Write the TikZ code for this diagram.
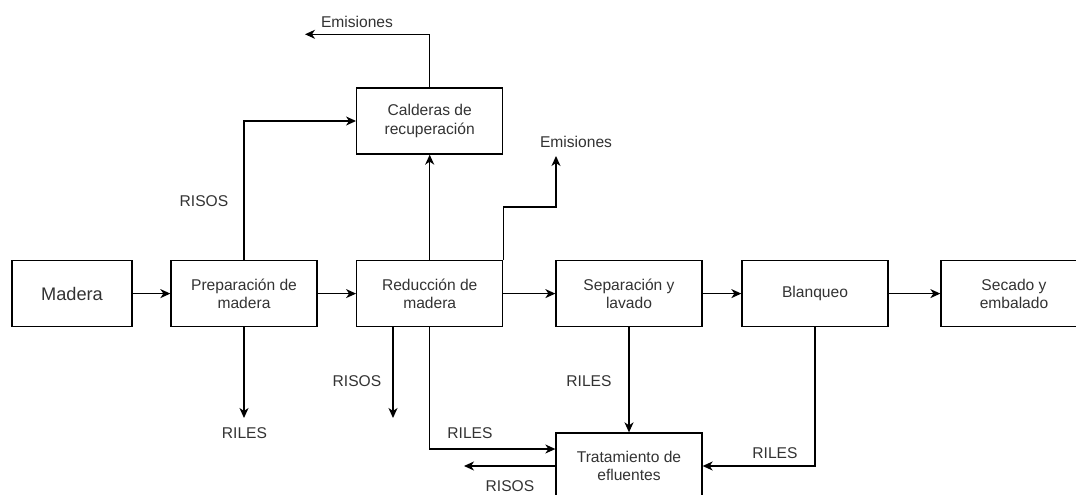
\documentclass[tikz,border=0pt]{standalone}
\usepackage{fontspec}
\setmainfont{Liberation Sans}
\usetikzlibrary{arrows.meta}
\definecolor{txt}{HTML}{333333}
\begin{document}
\begin{tikzpicture}[x=1pt,y=-1pt,
 box/.style={draw=black, line width=1.3pt, minimum width=146pt, minimum height=66pt, inner sep=0pt, align=center, text=txt, font=\fontsize{15.6}{18.3}\selectfont},
 lbl/.style={inner sep=0pt, text=txt, font=\fontsize{15.6}{18.3}\selectfont},
 flow/.style={draw=black, line width=1.3pt, -{Stealth[length=10pt,width=9pt,inset=3pt]}},
 wire/.style={draw=black, line width=1.3pt}
]
\useasboundingbox (0,0) rectangle (1076,495);
\clip (0,0) rectangle (1076,495);
\fill[white] (0,0) rectangle (1076,495);

% process boxes
\node[box, minimum width=120pt, font=\fontsize{18.2}{21}\selectfont] (mad) at (72,293.6) {Madera};
\node[box] (prep) at (244,293.6) {Preparación de\\madera};
\node[box] (red) at (429.7,293.6) {Reducción de\\madera};
\node[box] (sep) at (629,293.6) {Separación y\\lavado};
\node[box] (bla) at (815,293.6) {Blanqueo};
\node[box] (sec) at (1014,293.6) {Secado y\\embalado};
\node[box] (cal) at (429.7,121) {Calderas de\\recuperación};
\node[box] (tra) at (629,466) {Tratamiento de\\efluentes};

% free ends
\coordinate (e1) at (305,34.3);
\coordinate (e2) at (556,156);
\coordinate (k2) at (0,207);
\coordinate (r0) at (244,418);
\coordinate (r1) at (393,418);
\coordinate (r2) at (464,466);

% main line
\draw[flow] (mad) -- (prep);
\draw[flow] (prep) -- (red);
\draw[flow] (red) -- (sep);
\draw[flow] (sep) -- (bla);
\draw[flow] (bla) -- (sec);

% to boilers
\draw[flow] (prep.north) |- (cal.west);
\draw[flow] (red.north) -- (cal.south);
\draw[flow] (cal.north) |- (e1);
\draw[flow] (red.north east) -- (red.north east |- k2) -| (e2);

% downward flows
\draw[flow] (prep.south) -- (r0);
\draw[flow] (r1 |- red.south) -- (r1);
\draw[flow] (red.south) |- ([yshift=17pt]tra.west);
\draw[flow] (sep.south) -- (tra.north);
\draw[flow] (bla.south) |- (tra.east);
\draw[flow] (tra.west) -- (r2);

% labels
\node[lbl] (lem1) at (357,21.7) {Emisiones};
\node[lbl] (lem2) at (576,141.7) {Emisiones};
\node[lbl] (lris1) at (204,201) {RISOS};
\node[lbl] (lril1) at (244.5,433) {RILES};
\node[lbl] (lris2) at (357,381) {RISOS};
\node[lbl] (lril2) at (470,433) {RILES};
\node[lbl] (lril3) at (589,381) {RILES};
\node[lbl] (lril4) at (775,453) {RILES};
\node[lbl] (lris3) at (510,486) {RISOS};
\end{tikzpicture}
\end{document}
